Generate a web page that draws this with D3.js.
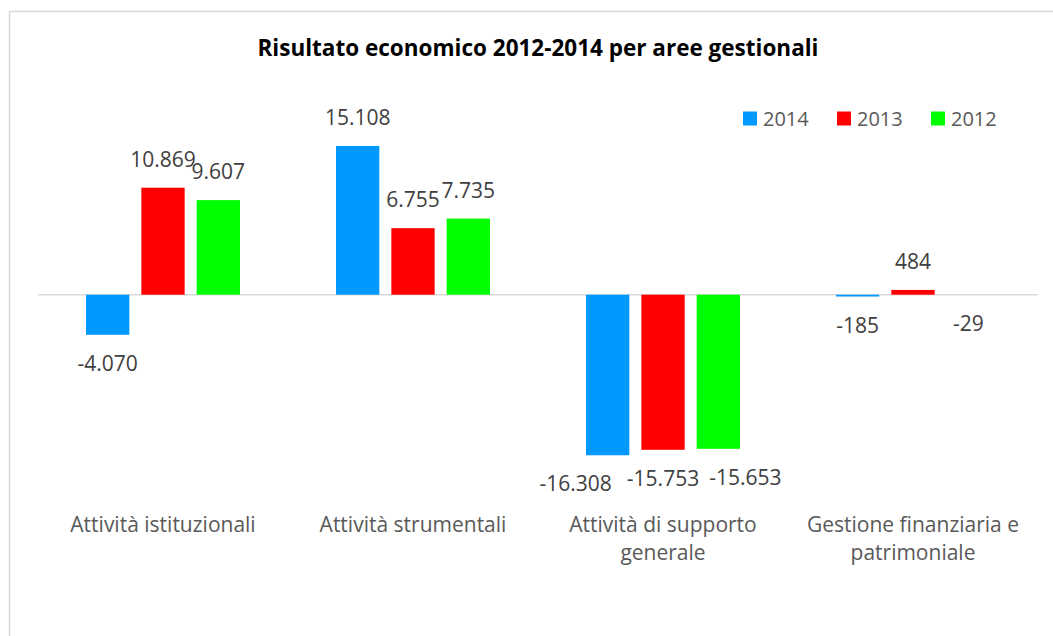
<!DOCTYPE html>
<html>
<head>
<meta charset="utf-8">
<script src="https://cdn.jsdelivr.net/npm/d3@7"></script>
<style>
  body { margin: 0; background: #fff; }
  text { font-family: "Open Sans", sans-serif; }
</style>
</head>
<body>
<svg id="chart" width="1053" height="636"></svg>
<script>
'use strict';

// data
const categories = [
	['Attività istituzionali'],
	['Attività strumentali'],
	['Attività di supporto', 'generale'],
	['Gestione finanziaria e', 'patrimoniale']
];
const series = ['2014', '2013', '2012'];
const values2014 = [-4070, 15108, -16308, -185];
const values2013 = [10869, 6755, -15753, 484];
const values2012 = [9607, 7735, -15653, -29];
const colors = ['#0099ff', '#ff0000', '#00ff00'];

const svg = d3.select('#chart');

// outer chart border
svg.append('rect')
	.attr('x', 9.5).attr('y', 11.5)
	.attr('width', 1100).attr('height', 700)
	.attr('fill', 'none')
	.attr('stroke', '#d9d9d9')
	.attr('stroke-width', 1.5);

svg.append('text')
	.attr('x', 538).attr('y', 56)
	.attr('text-anchor', 'middle')
	.style('font-size', '22.5px')
	.style('font-weight', 'bold')
	.attr('fill', '#000')
	.text('Risultato economico 2012-2014 per aree gestionali');

const x0 = d3.scaleBand()
	.domain(d3.range(categories.length))
	.range([38, 1038]);

const x1 = d3.scaleBand()
	.domain(series)
	.range([48, 202])
	.paddingInner(0.217);

const y = d3.scaleLinear()
	.domain([-20000, 20000])
	.range([491.6, 97.8]);

const allValues = [values2014, values2013, values2012];

// zero line
svg.append('line')
	.attr('x1', 38).attr('x2', 1038)
	.attr('y1', y(0)).attr('y2', y(0))
	.attr('stroke', '#d9d9d9')
	.attr('stroke-width', 1.5);

// label shifts to avoid overlap (excel moved these)
const labelShift = { '2-0': -32, '2-2': 27 };

const fmt = v => d3.format(',')(v).replace(/,/g, '.').replace('\u2212', '-');

categories.forEach(function(cat, i) {
	let g = svg.append('g').attr('transform', `translate(${x0(i)},0)`);

	series.forEach(function(s, j) {
		let v = allValues[j][i],
			bx = x1(s),
			top = Math.min(y(v), y(0)),
			h = Math.abs(y(v) - y(0));

		if (h >= 0.5) {
			g.append('rect')
				.attr('x', bx)
				.attr('y', top)
				.attr('width', x1.bandwidth())
				.attr('height', h)
				.attr('fill', colors[j]);
		}

		let dx = labelShift[`${i}-${j}`] || 0;
		g.append('text')
			.attr('x', bx + x1.bandwidth() / 2 + dx)
			.attr('y', v >= 0 ? top - 21 : top + h + 36)
			.attr('text-anchor', 'middle')
			.style('font-size', '21px')
			.attr('fill', '#404040')
			.text(fmt(v));
	});

	let t = g.append('text')
		.attr('x', x0.bandwidth() / 2)
		.attr('y', 532)
		.attr('text-anchor', 'middle')
		.style('font-size', '21px')
		.attr('fill', '#595959');
	cat.forEach(function(line, k) {
		t.append('tspan')
			.attr('x', x0.bandwidth() / 2)
			.attr('dy', k === 0 ? 0 : 28)
			.text(line);
	});
});

// legend
const legendX = [743, 837, 931];
series.forEach(function(s, j) {
	svg.append('rect')
		.attr('x', legendX[j]).attr('y', 111.5)
		.attr('width', 14).attr('height', 14)
		.attr('fill', colors[j]);
	svg.append('text')
		.attr('x', legendX[j] + 20).attr('y', 126)
		.style('font-size', '20px')
		.attr('fill', '#595959')
		.text(s);
});
</script>
</body>
</html>
